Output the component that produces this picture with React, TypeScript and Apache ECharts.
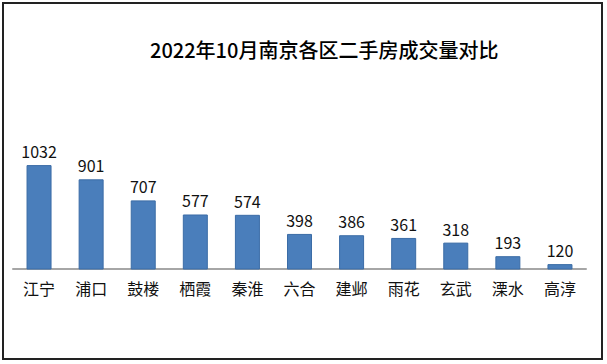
import React, { useEffect, useRef } from "react";
import * as echarts from "echarts";

const titleText = "2022年10月南京各区二手房成交量对比";
const districts = ["江宁", "浦口", "鼓楼", "栖霞", "秦淮", "六合", "建邺", "雨花", "玄武", "溧水", "高淳"];
const volumes = [1032, 901, 707, 577, 574, 398, 386, 361, 318, 193, 120];

const FONT = '"Noto Sans CJK SC", "Noto Sans", sans-serif';

export default function App() {
  const ref = useRef<HTMLDivElement>(null);
  useEffect(() => {
    if (!ref.current) return;
    const chart = echarts.init(ref.current, undefined, { renderer: "svg" });
    chart.setOption({
      animation: false,
      backgroundColor: "#ffffff",
      title: {
        text: titleText,
        left: 145,
        top: 34,
        textStyle: { fontFamily: FONT, fontSize: 20, fontWeight: 500, color: "#000" },
      },
      graphic: [
        {
          type: "rect",
          shape: { x: 3, y: 3, width: 599, height: 356 },
          style: { fill: "none", stroke: "#222", lineWidth: 2 },
          silent: true,
        },
      ],
      grid: { left: 13, right: 21, top: 60, bottom: 95 },
      xAxis: {
        type: "category",
        data: districts,
        axisLine: { lineStyle: { color: "#a6a6a6", width: 2 } },
        axisTick: { show: false },
        axisLabel: { fontFamily: FONT, fontSize: 16, color: "#111", margin: 11 },
      },
      yAxis: {
        type: "value",
        min: 75,
        max: 2000,
        show: false,
        splitLine: { show: false },
      },
      series: [
        {
          type: "bar",
          data: volumes,
          barWidth: 25,
          itemStyle: { color: "#4a7ebb", borderColor: "#3b6ca6", borderWidth: 1 },
          label: {
            show: true,
            position: "top",
            distance: 6,
            fontFamily: FONT,
            fontSize: 16,
            color: "#111",
          },
        },
      ],
    });
    return () => chart.dispose();
  }, []);
  return (
    <div
      ref={ref}
      style={{ position: "fixed", left: 0, top: 0, width: 607, height: 364 }}
    />
  );
}
